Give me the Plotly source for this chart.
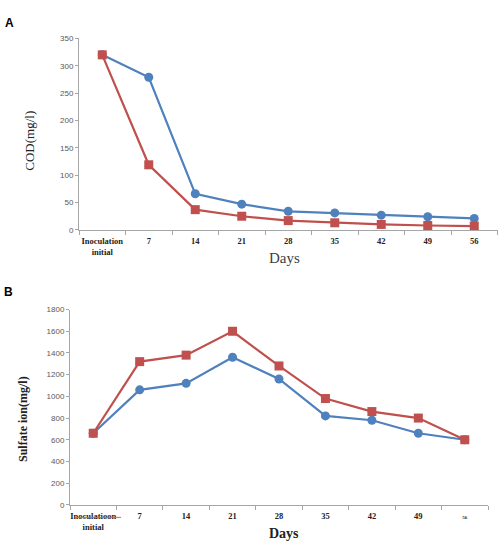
import plotly.graph_objects as go

days = ["Inoculation initial", "7", "14", "21", "28", "35", "42", "49", "56"]
ticktext_a = ["Inoculation<br>initial", "7", "14", "21", "28", "35", "42", "49", "56"]
ticktext_b = ["Inoculatioon<br>initial", "7", "14", "21", "28", "35", "42", "49",
              "<span style='font-size:5px'>56</span>"]

cod_blue = [320, 279, 66, 47, 34, 31, 27, 24, 21]
cod_red = [320, 119, 37, 25, 17, 13, 10, 8, 7]

sulf_blue = [660, 1060, 1120, 1360, 1160, 820, 780, 660, 600]
sulf_red = [660, 1320, 1380, 1600, 1280, 980, 860, 800, 600]

BLUE = "#4F81BD"
RED = "#C0504D"

fig = go.Figure()

def add_pair(xa, ya, blue, red):
    fig.add_trace(go.Scatter(x=days, y=blue, mode="lines+markers", xaxis=xa, yaxis=ya,
                             line=dict(color=BLUE, width=2.2),
                             marker=dict(symbol="circle", size=9, color=BLUE),
                             showlegend=False, cliponaxis=False))
    fig.add_trace(go.Scatter(x=days, y=red, mode="lines+markers", xaxis=xa, yaxis=ya,
                             line=dict(color=RED, width=2.2),
                             marker=dict(symbol="square", size=9, color=RED),
                             showlegend=False, cliponaxis=False))

add_pair("x", "y", cod_blue, cod_red)
add_pair("x2", "y2", sulf_blue, sulf_red)

W, H = 499, 544
def px(x): return x / W
def py(y): return 1 - y / H

xcommon = dict(type="category", range=[-0.5, 8.5], showline=True, linecolor="#A6A6A6",
               linewidth=1, ticks="outside", tickson="boundaries", ticklen=4,
               tickcolor="#A6A6A6", showgrid=False, zeroline=False, tickangle=0,
               ticklabelstandoff=3,
               tickfont=dict(family="Liberation Serif", size=8.5, color="#222222"))
ycommon = dict(showline=True, linecolor="#A6A6A6", linewidth=1, ticks="outside",
               ticklen=3, tickcolor="#A6A6A6", showgrid=False, zeroline=False,
               tickfont=dict(family="Liberation Sans", size=8, color="#595959"))

fig.update_layout(
    width=W, height=H, margin=dict(l=0, r=0, t=0, b=0),
    paper_bgcolor="white", plot_bgcolor="white",
    xaxis=dict(domain=[px(79), px(497.5)], anchor="y",
               tickvals=days, ticktext=["<b>%s</b>" % t for t in ticktext_a], **xcommon),
    yaxis=dict(domain=[py(229.7), py(35)], anchor="x", range=[0, 350], dtick=50, **ycommon),
    xaxis2=dict(domain=[px(70), px(488)], anchor="y2",
                tickvals=days, ticktext=["<b>%s</b>" % t for t in ticktext_b], **xcommon),
    yaxis2=dict(domain=[py(509.3), py(310.7)], anchor="x2", range=[0, 1800], dtick=200, **ycommon),
)

ann = [
    dict(text="<b>A</b>", x=px(3), y=py(19), xanchor="left", yanchor="middle",
         font=dict(family="Liberation Sans", size=12, color="black")),
    dict(text="<b>B</b>", x=px(2), y=py(293), xanchor="left", yanchor="middle",
         font=dict(family="Liberation Sans", size=12, color="black")),
    dict(text="COD(mg/l)", x=px(30), y=py(139), textangle=-90, xanchor="center", yanchor="middle",
         font=dict(family="Liberation Serif", size=13, color="#222222")),
    dict(text="Days", x=px(284), y=py(258), xanchor="center", yanchor="middle",
         font=dict(family="Liberation Serif", size=15, color="#404040")),
    dict(text="<b>Sulfate ion(mg/l)</b>", x=px(23), y=py(422), textangle=-90, xanchor="center",
         yanchor="middle", font=dict(family="Liberation Serif", size=12, color="#222222")),
    dict(text="<b>Days</b>", x=px(284), y=py(538), xanchor="center", yanchor="middle",
         font=dict(family="Liberation Serif", size=14, color="#222222")),
]
for a in ann:
    a.update(xref="paper", yref="paper", showarrow=False)
fig.update_layout(annotations=ann)

# red spell-check underline under the misspelled label in panel B
fig.add_shape(type="line", xref="paper", yref="paper", x0=px(75), x1=px(121), y0=py(522), y1=py(522),
              line=dict(color="#E06060", width=1))

fig.write_html("out.html")
